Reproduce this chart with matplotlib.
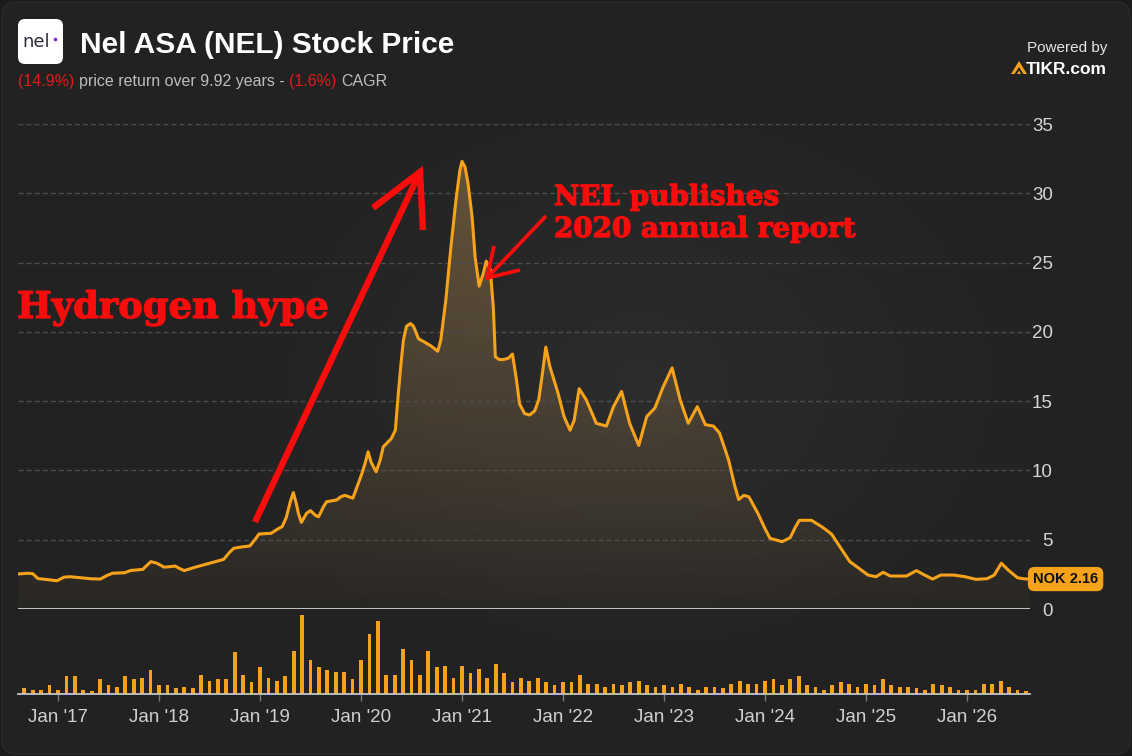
import numpy as np
import matplotlib
matplotlib.use("Agg")
import matplotlib.pyplot as plt
import matplotlib.patheffects as pe
from matplotlib.patches import FancyBboxPatch, Polygon, Circle

# --- data ---
price_dates = [
    2016.61, 2016.70, 2016.75, 2016.80, 2016.88, 2016.99, 2017.06, 2017.12, 2017.24, 2017.33,
    2017.42, 2017.48, 2017.54, 2017.66, 2017.72, 2017.84, 2017.88, 2017.92, 2017.98, 2018.05,
    2018.10, 2018.16, 2018.21, 2018.25, 2018.35, 2018.46, 2018.56, 2018.64, 2018.70, 2018.74,
    2018.82, 2018.90, 2018.96, 2018.99, 2019.05, 2019.11, 2019.17, 2019.22, 2019.26, 2019.30,
    2019.33, 2019.36, 2019.38, 2019.41, 2019.46, 2019.50, 2019.55, 2019.58, 2019.63, 2019.66,
    2019.76, 2019.80, 2019.84, 2019.92, 2019.97, 2020.01, 2020.04, 2020.07, 2020.10, 2020.15,
    2020.19, 2020.22, 2020.30, 2020.34, 2020.37, 2020.40, 2020.42, 2020.45, 2020.49, 2020.52,
    2020.57, 2020.62, 2020.69, 2020.76, 2020.79, 2020.84, 2020.89, 2020.94, 2020.98, 2021.00,
    2021.03, 2021.06, 2021.10, 2021.13, 2021.17, 2021.21, 2021.24, 2021.28, 2021.31, 2021.33,
    2021.37, 2021.41, 2021.46, 2021.50, 2021.54, 2021.57, 2021.62, 2021.67, 2021.72, 2021.76,
    2021.80, 2021.83, 2021.87, 2021.95, 2022.01, 2022.07, 2022.11, 2022.16, 2022.23, 2022.33,
    2022.43, 2022.50, 2022.58, 2022.66, 2022.75, 2022.83, 2022.91, 2022.99, 2023.08, 2023.16,
    2023.24, 2023.33, 2023.41, 2023.49, 2023.55, 2023.64, 2023.70, 2023.74, 2023.79, 2023.84,
    2023.93, 2024.00, 2024.05, 2024.17, 2024.25, 2024.30, 2024.34, 2024.46, 2024.57, 2024.66,
    2024.75, 2024.84, 2024.93, 2025.02, 2025.10, 2025.17, 2025.24, 2025.40, 2025.50, 2025.58,
    2025.66, 2025.74, 2025.87, 2025.98, 2026.09, 2026.20, 2026.27, 2026.34, 2026.41, 2026.50,
    2026.56, 2026.62,
]
price_values = [
    2.53, 2.58, 2.55, 2.20, 2.13, 2.04, 2.30, 2.33, 2.24, 2.18,
    2.16, 2.40, 2.58, 2.62, 2.78, 2.86, 3.15, 3.42, 3.30, 3.02,
    3.05, 3.10, 2.90, 2.77, 3.00, 3.22, 3.42, 3.58, 4.10, 4.38,
    4.48, 4.55, 5.10, 5.41, 5.44, 5.46, 5.75, 5.95, 6.60, 7.74,
    8.40, 7.60, 6.90, 6.25, 6.90, 7.10, 6.75, 6.66, 7.40, 7.74,
    7.87, 8.10, 8.20, 8.00, 9.00, 9.80, 10.50, 11.35, 10.60, 9.90,
    10.75, 11.70, 12.30, 12.90, 15.60, 18.00, 19.40, 20.40, 20.60, 20.40,
    19.50, 19.30, 19.00, 18.60, 19.40, 22.30, 26.10, 29.50, 31.70, 32.30,
    31.90, 30.70, 28.30, 25.40, 23.30, 24.20, 25.10, 24.50, 21.80, 18.20,
    18.00, 18.00, 18.10, 18.40, 16.50, 14.80, 14.10, 14.00, 14.30, 15.10,
    17.20, 18.90, 17.50, 15.60, 13.90, 12.90, 13.60, 15.90, 15.10, 13.40,
    13.20, 14.60, 15.70, 13.40, 11.80, 13.90, 14.50, 16.00, 17.40, 15.10,
    13.40, 14.60, 13.30, 13.20, 12.70, 10.75, 8.90, 7.90, 8.20, 8.10,
    6.90, 5.80, 5.10, 4.86, 5.15, 5.90, 6.40, 6.40, 5.90, 5.40,
    4.40, 3.42, 2.94, 2.45, 2.33, 2.65, 2.38, 2.38, 2.77, 2.45,
    2.16, 2.45, 2.45, 2.33, 2.14, 2.19, 2.45, 3.30, 2.80, 2.26,
    2.18, 2.16,
]
# monthly volume (relative), Sep 2016 .. Aug 2026
volume_values = [
    5.7, 4.3, 4.3, 9, 4.3, 18, 18, 4.3, 2.7, 14.7,
    9, 7.3, 18, 14.7, 16.3, 23.7, 9, 9, 5.7, 7.3,
    5.7, 19.3, 13.3, 14.7, 14.7, 41.7, 19.3, 12, 27, 16.3,
    13.3, 18, 43.3, 79.3, 34.3, 27, 23.7, 22.3, 22.3, 14.7,
    34.3, 60, 73, 19.3, 19.3, 44.7, 34.3, 19.3, 43.3, 27,
    28.3, 16.3, 28.3, 21, 25.3, 16.3, 30, 21, 12, 16.3,
    13.3, 16.3, 12, 9, 12, 12, 19.3, 10, 10, 7.3,
    10, 9, 12, 13.3, 9, 7.3, 9, 7.3, 10, 7.3,
    4.3, 7.3, 7.3, 5.7, 10, 13.3, 10, 10, 13.3, 14.7,
    9, 14.7, 18, 9, 7.3, 4.3, 9, 12, 10, 7.3,
    10, 9, 14.7, 9, 7.3, 7.3, 5.7, 4.3, 10, 9,
    7.3, 4.3, 4.3, 4.3, 10, 10, 13.3, 7.3, 4.3, 2.7,
]
volume_start = 2016 + 8 / 12
year_ticks = list(range(2017, 2027))
year_labels = ["Jan '%02d" % (y % 100) for y in year_ticks]
price_ticks = [0, 5, 10, 15, 20, 25, 30, 35]

title = "Nel ASA (NEL) Stock Price"
subtitle_parts = [("(14.9%)", "red"), ("price return over 9.92 years -", "grey"),
                  ("(1.6%)", "red"), ("CAGR", "grey")]
last_label = "NOK 2.16"

# --- colours / sizes ---
W, H = 1132, 756
ORANGE = "#f7a21b"
RED = "#f80c0c"
BG = "#222222"
XMIN, XMAX = 2016.604, 2026.624
SANS = "Liberation Sans"
SERIF = "DejaVu Serif"

fig = plt.figure(figsize=(W / 100, H / 100), dpi=100)
fig.patch.set_facecolor("#1b1b1b")

# background card with a soft glow
ax_bg = fig.add_axes([0, 0, 1, 1])
ax_bg.set_xlim(0, W)
ax_bg.set_ylim(H, 0)
ax_bg.axis("off")
card = FancyBboxPatch((2, 2), W - 4, H - 4, boxstyle="round,pad=0,rounding_size=14",
                      fc=BG, ec="#2a2a2a", lw=1)
ax_bg.add_patch(card)
yy, xx = np.mgrid[0:H, 0:W]
r = np.sqrt(((xx - 640) / 560.0) ** 2 + ((yy - 380) / 420.0) ** 2)
glow = np.ones((H, W, 4))
glow[..., 3] = np.clip(1 - r, 0, 1) ** 1.5 * 0.05
im_bg = ax_bg.imshow(glow, extent=[0, W, H, 0], zorder=1, aspect="auto")
im_bg.set_clip_path(card)
ax_bg.set_xlim(0, W)
ax_bg.set_ylim(H, 0)

def fx(px):
    return px / W

def fy(py):
    return 1 - py / H

# --- price panel ---
ax = fig.add_axes([fx(18), fy(609), (1030 - 18) / W, (609 - 124) / H])
ax.set_facecolor("none")

# gradient fill under the line
verts = [(price_dates[0], 0)] + list(zip(price_dates, price_values)) + [(price_dates[-1], 0)]
poly = Polygon(verts, closed=True, fc="none", ec="none")
ax.add_patch(poly)
t = np.linspace(0, 1, 256).reshape(-1, 1)
grad = np.zeros((256, 1, 4))
grad[..., 0], grad[..., 1], grad[..., 2] = 0.86, 0.66, 0.38
grad[..., 3] = 0.04 + 0.32 * t
im = ax.imshow(grad, extent=[XMIN, XMAX, 0, 33], origin="lower", aspect="auto", zorder=1)
im.set_clip_path(poly)

ax.plot(price_dates, price_values, color=ORANGE, lw=2.2, solid_joinstyle="round",
        solid_capstyle="round", zorder=3)
ax.axhline(0, color="#d0d0d0", lw=1.3, zorder=2)

ax.set_xlim(XMIN, XMAX)
ax.set_ylim(0, 35)
ax.set_yticks(price_ticks)
ax.set_xticks([])
ax.grid(axis="y", color="#4d4d4d", lw=1, ls=(0, (3.6, 2.2)))
for s in ax.spines.values():
    s.set_visible(False)
ax.tick_params(axis="y", length=0, labelleft=False, labelright=True, pad=16.5,
               labelsize=13.5, labelcolor="#d5d5d5")
for lbl in ax.get_yticklabels():
    lbl.set_ha("right")
    lbl.set_fontfamily(SANS)

# last price badge
ax.text(1.003, price_values[-1], last_label, transform=ax.get_yaxis_transform(),
        ha="left", va="center", fontsize=10.5, fontweight="bold", color="#111111",
        fontfamily=SANS, zorder=5,
        bbox=dict(boxstyle="round,pad=0.35,rounding_size=0.45", fc=ORANGE, ec="none"))

# --- volume panel ---
vax = fig.add_axes([fx(18), fy(694), (1030 - 18) / W, (694 - 612) / H])
vax.set_facecolor("none")
vol_dates = volume_start + np.arange(len(volume_values)) / 12.0
vax.bar(vol_dates, volume_values, width=0.037, color=ORANGE, zorder=2)
vax.set_xlim(XMIN, XMAX)
vax.set_ylim(0, 82)
vax.set_yticks([])
vax.set_xticks(year_ticks)
vax.set_xticklabels(year_labels, fontfamily=SANS)
for name, s in vax.spines.items():
    s.set_visible(name == "bottom")
vax.spines["bottom"].set_color("#c4c4c4")
vax.spines["bottom"].set_linewidth(1.3)
vax.tick_params(axis="x", length=5, width=1, color="#7a7a7a", pad=6,
                labelsize=13.5, labelcolor="#d0d0d0")

# --- overlay: header and annotations in pixel coords ---
top = fig.add_axes([0, 0, 1, 1], zorder=10)
top.set_xlim(0, W)
top.set_ylim(H, 0)
top.axis("off")

# nel logo
top.add_patch(FancyBboxPatch((18, 19), 45, 45, boxstyle="round,pad=0,rounding_size=7",
                             fc="white", ec="none"))
top.text(36, 42, "nel", fontsize=13, color="#2d2d3a", ha="center", va="center",
         fontfamily="DejaVu Sans")
top.add_patch(Circle((55.5, 39.5), 1.8, fc="#7b22d6", ec="none"))

top.text(80, 53, title, fontsize=21.5, fontweight="bold", color="white",
         fontfamily=SANS, va="baseline")

# subtitle pieces, placed one after the other
renderer = fig.canvas.get_renderer()
probe1 = top.text(0, -50, "xx", fontsize=11.5, fontfamily=SANS)
probe2 = top.text(0, -50, "x x", fontsize=11.5, fontfamily=SANS)
space_w = probe2.get_window_extent(renderer).width - probe1.get_window_extent(renderer).width
probe1.remove()
probe2.remove()
xpos = 18
for txt, kind in subtitle_parts:
    col = "#e01b1b" if kind == "red" else "#bdbdbd"
    tt = top.text(xpos, 86, txt, fontsize=11.5, color=col, fontfamily=SANS, va="baseline")
    xpos += tt.get_window_extent(renderer).width + space_w

# powered by TIKR
top.text(1107, 52, "Powered by", fontsize=11, color="#e6e6e6", fontfamily=SANS,
         ha="right", va="baseline")
top.text(1107, 74, "TIKR.com", fontsize=12.5, fontweight="bold", color="white",
         fontfamily=SANS, ha="right", va="baseline")
top.add_patch(Polygon([(1011, 74), (1019, 61), (1027, 74), (1023.5, 74), (1019, 67),
                       (1014.5, 74)], closed=True, fc=ORANGE, ec="none"))
top.add_patch(Polygon([(1017, 74), (1019, 70.5), (1021, 74)], closed=True,
                      fc=ORANGE, ec="none"))

# red annotations (thin stroke makes the serif a bit heavier)
heavy = [pe.withStroke(linewidth=0.9, foreground=RED)]
top.text(17, 318, "Hydrogen hype", fontsize=26.5, fontweight="bold", color=RED,
         fontfamily=SERIF, va="baseline", path_effects=heavy)
top.text(554, 205, "NEL publishes", fontsize=20, fontweight="bold", color=RED,
         fontfamily=SERIF, va="baseline", path_effects=heavy)
top.text(554, 237, "2020 annual report", fontsize=20, fontweight="bold", color=RED,
         fontfamily=SERIF, va="baseline", path_effects=heavy)

# big arrow
top.plot([255, 420], [522, 172], color=RED, lw=4.6, solid_capstyle="butt")
top.plot([373, 420, 423], [208, 172, 230], color=RED, lw=4.6, solid_joinstyle="miter",
         solid_capstyle="butt")
# small arrow
top.plot([546, 487], [216, 278], color=RED, lw=2.7, solid_capstyle="butt")
top.plot([494, 487, 520], [246, 278, 270], color=RED, lw=2.7, solid_joinstyle="miter",
         solid_capstyle="butt")

fig.savefig("out.png", dpi=100, facecolor=fig.get_facecolor())
